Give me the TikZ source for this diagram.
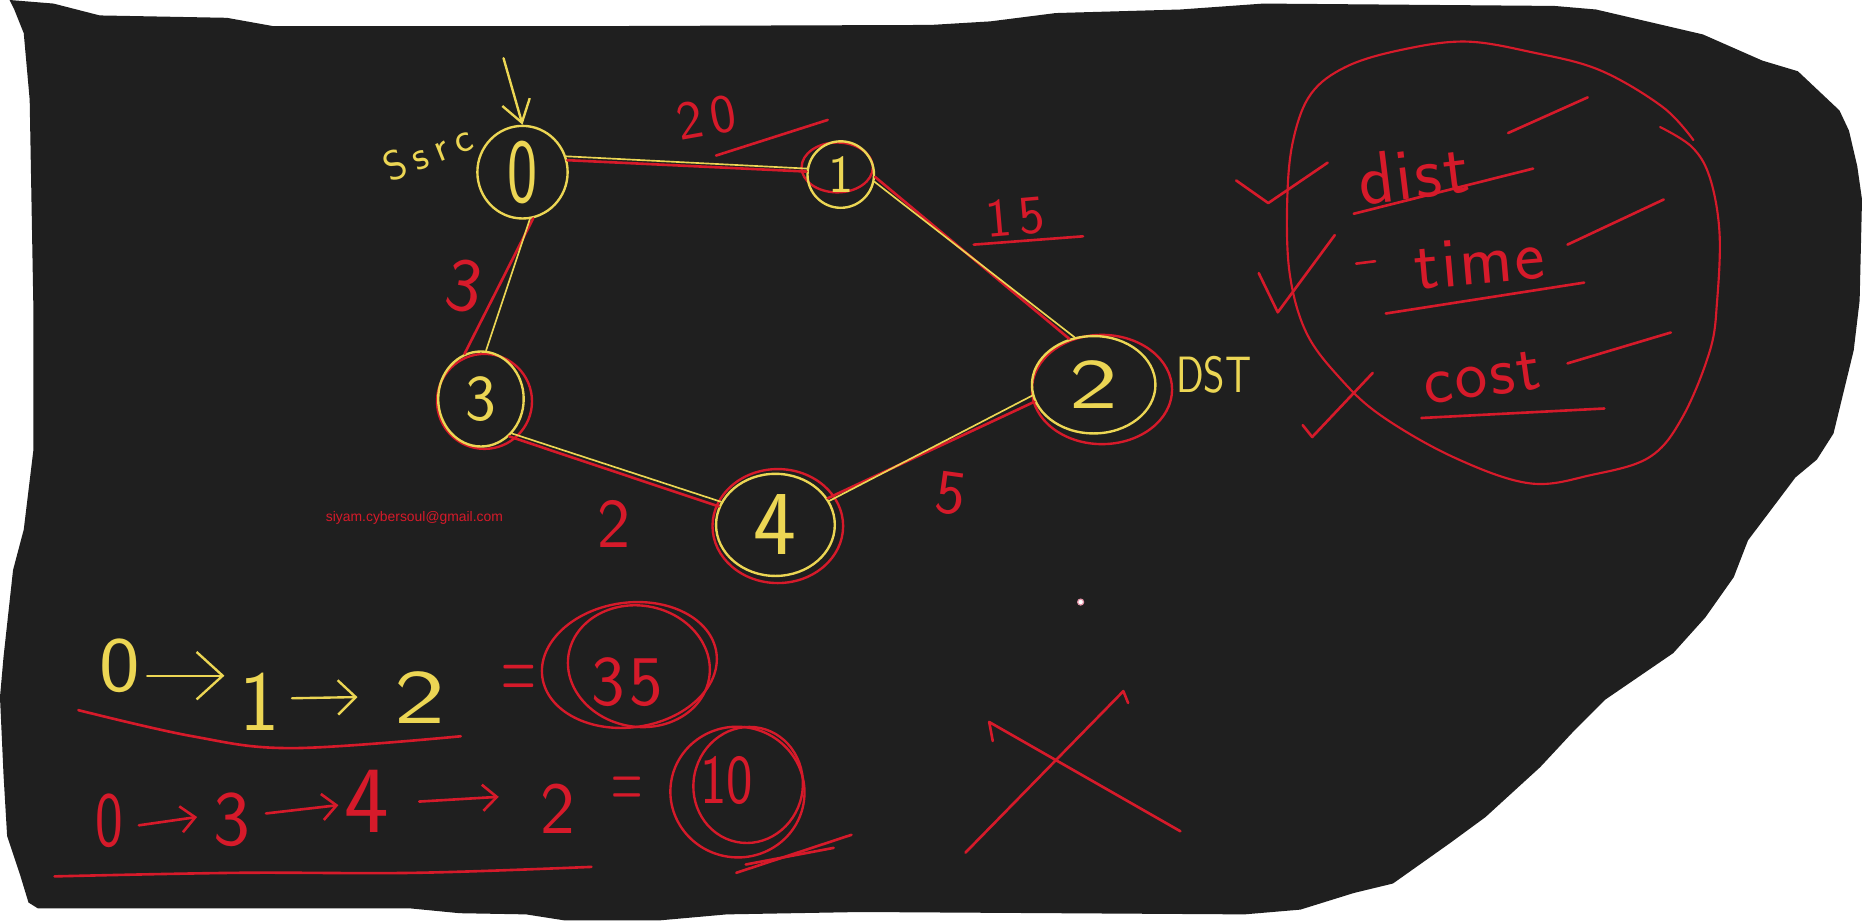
\documentclass[tikz,border=0pt]{standalone}
\usepackage{fontspec}
\usepackage{graphicx}
\newfontfamily\emailfont{Liberation Sans}
\usetikzlibrary{shapes.geometric,arrows.meta}
\definecolor{board}{RGB}{31,31,31}
\definecolor{yel}{RGB}{236,214,84}
\definecolor{rd}{RGB}{214,26,42}
\definecolor{dotc}{RGB}{230,150,170}
\begin{document}
\begin{tikzpicture}[x=1pt,y=-1pt,
  yl/.style={draw=yel, line width=2pt, line cap=round, line join=round},
  rl/.style={draw=rd, line width=2.2pt, line cap=round, line join=round},
  yring/.style={ellipse, draw=yel, line width=2pt, inner sep=0pt, text=yel},
  rring/.style={ellipse, draw=rd, line width=2pt, inner sep=0pt},
  fs/.style={font=\sffamily\fontsize{#1}{#1}\selectfont, inner sep=0pt},
  ytx/.style={text=yel},
  rtx/.style={text=rd},
]
\useasboundingbox (0,0) rectangle (1568,776);
\fill[white] (0,0) rectangle (1568,776);
% board
\fill[board] (8,0) -- (45,3) -- (84,13) -- (191,15) -- (230,22) -- (500,22) -- (784,21) -- (834,18) -- (889,11) -- (994,8) -- (1064,3) -- (1309,5) -- (1344,8) -- (1434,29) -- (1484,51) -- (1514,60) -- (1549,93) -- (1557,110) -- (1564,140) -- (1568,168) -- (1566,253) -- (1561,295) -- (1544,365) -- (1530,387) -- (1512,402) -- (1472,455) -- (1460,486) -- (1436,520) -- (1409,550) -- (1352,589) -- (1324,617) -- (1297,646) -- (1251,688) -- (1221,710) -- (1173,744) -- (1140,752) -- (1095,766) -- (1048,770) -- (887,769) -- (725,768) -- (612,770) -- (556,775) -- (475,775) -- (443,770) -- (387,769) -- (346,765) -- (32,765) -- (24,760) -- (17,737) -- (6,704) -- (3,653) -- (0,587) -- (3,553) -- (11,480) -- (20,446) -- (28,380) -- (28,253) -- (25,84) -- (20,28) -- (12,8) -- cycle;

% ---------- graph ----------
\node[rring, minimum width=60, minimum height=42] (r1) at (705,141) {};
\node[rring, minimum width=118, minimum height=92] (r2) at (928,328) {};
\node[rring, minimum width=80, minimum height=80] (r3) at (408,338) {};
\node[rring, minimum width=110, minimum height=96] (r4) at (655,443) {};

\node[yring, fs=77, minimum width=76, minimum height=78] (n0) at (440,145) {\scalebox{0.7}[1]{0}};
\node[yring, fs=45, minimum width=56, minimum height=56] (n1) at (708,147) {1};
\node[yring, fs=60, minimum width=104, minimum height=82] (n2) at (921,324) {\scalebox{1.45}[1]{2}};
\node[yring, fs=55, minimum width=72, minimum height=80] (n3) at (405,336) {3};
\node[yring, fs=77, minimum width=100, minimum height=86] (n4) at (653,442) {4};

% edges: red strokes then yellow strokes
\draw[rl] (n0.15) -- (n1.175);
\draw[rl] (n1.-4) -- (n2.118);
\draw[rl] (n0.-77) -- (n3.110);
\draw[rl] (n3.-53) -- (n4.162);
\draw[rl] (n4.27) -- (n2.196);
\draw[yl, line width=1.4pt] (n0.20) -- (n1.170);
\draw[yl, line width=1.4pt] (n1.-12) -- (n2.112);
\draw[yl, line width=1.4pt] (n0.-81) -- (n3.84);
\draw[yl, line width=1.4pt] (n3.-48) -- (n4.157);
\draw[yl, line width=1.4pt] (n4.24) -- (n2.190);

% source arrow and labels
\coordinate (srcA) at (424,49);
\draw[yl, -{Straight Barb[length=18pt,width=24pt]}] (srcA) -- (n0.north);
\node[fs=35, ytx, rotate=22] (src) at (360,128) {S\kern7pt s\kern7pt r\kern7pt c};
\node[fs=43, ytx] (dst) at (1022,316) {\scalebox{0.8}[1]{DST}};

% weights
\node[fs=46, rtx, rotate=10] (w01) at (595,99) {2\kern6pt 0};
\coordinate (s20a) at (603,131); \coordinate (s20b) at (697,101);
\draw[rl] (s20a) -- (s20b);
\node[fs=46, rtx, rotate=5] (w12) at (855,183) {1\kern6pt 5};
\coordinate (u15a) at (820,206); \coordinate (u15b) at (912,199);
\draw[rl] (u15a) -- (u15b);
\node[fs=64, rtx, rotate=-10] (w03) at (391,241) {3};
\node[fs=59, rtx] (w34) at (517,441) {2};
\node[fs=53, rtx, rotate=-8] (w42) at (801,416) {5};

% email and dot
\node[text=rd, font=\emailfont\fontsize{11.7}{12}\selectfont, inner sep=0pt] (mail) at (349,436) {siyam.cybersoul@gmail.com};
\node[circle, draw=dotc, fill=white, line width=1pt, minimum size=5pt, inner sep=0pt] (dot) at (910,507) {};

% ---------- right panel ----------
\draw[rl, line width=1.8pt] plot[smooth, tension=0.6] coordinates {(1426,118) (1400,90) (1347,59) (1290,44) (1234,35) (1180,42) (1134,56) (1104,79) (1089,118) (1084,168) (1086,230) (1100,280) (1128,318) (1163,350) (1224,385) (1288,407) (1340,400) (1389,385) (1417,351) (1440,295) (1446,253) (1448,196) (1440,150) (1425,124) (1398,107)};

\node[fs=62, rtx, rotate=7] (wdist) at (1190,146) {d\kern2pt i\kern2pt s\kern2pt t};
\node[fs=60, rtx, rotate=5] (wtime) at (1246,220) {t\kern2pt i\kern2pt m\kern2pt e};
\node[fs=58, rtx, rotate=8] (wcost) at (1248,318) {c\kern2pt o\kern2pt s\kern2pt t};

\draw[rl] (1140,180) -- (1291,142);
\draw[rl] (1270,112) -- (1337,82);
\draw[rl] (1142,222) -- (1158,220);
\draw[rl] (1167,264) -- (1334,238);
\draw[rl] (1320,206) -- (1401,168);
\draw[rl] (1197,352) -- (1351,344);
\draw[rl] (1320,306) -- (1407,280);
\draw[rl] (1041,152) -- (1068,171) -- (1118,137);
\draw[rl] (1060,230) -- (1076,263) -- (1124,198);
\draw[rl] (1097,358) -- (1105,368) -- (1156,314);

% ---------- equations ----------
\node[fs=66, ytx] (q0) at (101,561) {\scalebox{1.1}[1]{0}};
\node[fs=72, ytx] (q1) at (219,591) {1};
\node[fs=65, ytx] (q2) at (354,587) {\scalebox{1.4}[1]{2}};
\coordinate (ya1s) at (124,569); \coordinate (ya1e) at (189,569);
\coordinate (ya2s) at (246,588); \coordinate (ya2e) at (301,587);
\draw[yl, -{Straight Barb[length=22pt,width=40pt]}] (ya1s) -- (ya1e);
\draw[yl, -{Straight Barb[length=15pt,width=29pt]}] (ya2s) -- (ya2e);

\node[fs=40, rtx] (eq1) at (437,576) {\scalebox{1}[2.2]{=}};
\node[fs=60, rtx] (c35) at (528,574) {3\kern4pt 5};
\node[rring, minimum width=148, minimum height=105, rotate=8] (e35a) at (530,560) {};
\node[rring, minimum width=120, minimum height=102, rotate=-10] (e35b) at (538,561) {};
\draw[rl] plot[smooth, tension=0.6] coordinates {(66,598) (162,620) (246,630) (388,620)};

\node[fs=66, rtx] (p0) at (92,691) {\scalebox{0.75}[1]{0}};
\node[fs=66, rtx] (p3) at (195,690) {3};
\node[fs=80, rtx] (p4) at (309,675) {4};
\node[fs=62, rtx] (p2) at (470,681) {2};
\node[fs=36, rtx] (eq2) at (528,668) {\scalebox{1}[2.2]{=}};
\node[fs=59, rtx] (c10) at (612,657) {\scalebox{0.8}[1]{10}};
\node[rring, minimum width=113, minimum height=110, rotate=-8] (e10a) at (621,667) {};
\node[rring, minimum width=92, minimum height=98, rotate=-12] (e10b) at (630,661) {};
\coordinate (ra1s) at (117,695); \coordinate (ra1e) at (166,688);
\coordinate (ra2s) at (224,685); \coordinate (ra2e) at (285,678);
\coordinate (ra3s) at (353,675); \coordinate (ra3e) at (420,671);
\draw[rl, -{Straight Barb[length=12pt,width=22pt]}] (ra1s) -- (ra1e);
\draw[rl, -{Straight Barb[length=12pt,width=22pt]}] (ra2s) -- (ra2e);
\draw[rl, -{Straight Barb[length=12pt,width=22pt]}] (ra3s) -- (ra3e);
\draw[rl] (620,735) -- (717,703);
\draw[rl] (628,728) -- (702,714);
\draw[rl] plot[smooth, tension=0.6] coordinates {(46,738) (200,735) (350,735) (498,730)};

% big cross
\draw[rl] (813,718) -- (946,582) -- (950,592);
\draw[rl] (836,624) -- (833,608) -- (994,700);
\end{tikzpicture}
\end{document}
